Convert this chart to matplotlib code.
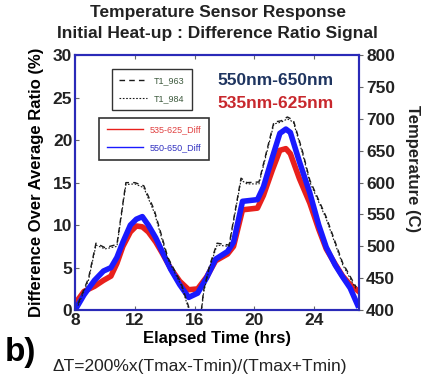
import matplotlib
matplotlib.use("Agg")
import matplotlib.pyplot as plt

plt.rcParams['font.family'] = ['Liberation Sans', 'DejaVu Sans']

# difference ratio signals (%), left axis
blue_t = [8.1, 8.6, 9.3, 9.9, 10.4, 10.8, 11.2, 11.7, 12.1, 12.5, 12.9, 13.4, 13.8, 14.4, 15.0, 15.6,
          16.2, 16.8, 17.4, 18.2, 18.6, 19.2, 20.2, 20.6, 21.2, 21.7, 22.1, 22.4, 23.0, 23.7, 24.3,
          24.8, 25.4, 25.9, 26.4, 26.9]
blue_v = [0.3, 1.8, 3.5, 4.6, 5.0, 6.2, 8.0, 10.0, 10.7, 11.0, 10.0, 8.5, 7.0, 4.8, 3.0, 1.5,
          2.0, 3.8, 6.0, 6.9, 8.0, 12.8, 13.0, 14.5, 18.0, 20.8, 21.3, 20.9, 17.5, 13.8, 10.0,
          7.4, 5.3, 3.9, 2.6, 0.6]
red_t = blue_t
red_v = [1.0, 2.2, 2.8, 3.5, 4.0, 5.5, 7.5, 9.2, 9.9, 9.8, 9.2, 8.0, 6.8, 4.9, 3.4, 2.4,
         2.5, 3.9, 5.8, 6.6, 7.5, 11.8, 12.0, 13.5, 16.5, 18.8, 19.0, 18.4, 15.5, 12.6, 9.5,
         7.2, 5.4, 4.0, 3.0, 2.3]

# thermocouple temperatures (C), right axis
tc_t = [8.2, 8.9, 9.4, 10.0, 10.8, 11.4, 12.0, 12.6, 13.3, 14.2, 15.1, 15.6, 15.9, 16.4, 16.6,
        17.0, 17.5, 18.3, 19.1, 19.5, 20.3, 21.3, 21.8, 22.2, 22.6, 23.2, 23.7, 24.8, 25.9, 26.8]
t1_963 = [410, 450, 505, 498, 503, 600, 600, 595, 557, 483, 442, 405, 390, 390, 431,
          470, 505, 502, 607, 600, 601, 695, 697, 703, 698, 650, 604, 546, 474, 436]
t1_984 = [407, 447, 502, 496, 500, 597, 598, 592, 553, 480, 439, 402, 388, 388, 428,
          467, 502, 500, 604, 598, 598, 692, 695, 700, 695, 647, 601, 543, 471, 433]

fig = plt.figure(figsize=(4.24, 3.75), dpi=100)
ax = fig.add_axes([0.177, 0.173, 0.670, 0.680])
ax2 = ax.twinx()

l_red, = ax.plot(red_t, red_v, color='#e8201c', lw=4, label='535-625_Diff')
l_blue, = ax.plot(blue_t, blue_v, color='#1a1aff', lw=4, label='550-650_Diff')
l963, = ax2.plot(tc_t, t1_963, color='#1a1a1a', lw=1.0, ls=(0, (4, 3)), label='T1_963')
l984, = ax2.plot(tc_t, t1_984, color='#1a1a1a', lw=0.8, ls=(0, (1.5, 1.5)), label='T1_984')
ax2.set_zorder(ax.get_zorder() + 1)
ax.patch.set_visible(False)

ax.set_xlim(8, 27)
ax.set_ylim(0, 30)
ax2.set_ylim(400, 800)
ax.set_xticks([8, 12, 16, 20, 24])
ax.set_yticks([0, 5, 10, 15, 20, 25, 30])
ax2.set_yticks(range(400, 801, 50))

for a in (ax, ax2):
    for s in a.spines.values():
        s.set_color('#2a2ab8')
        s.set_linewidth(1.5)
ax.tick_params(direction='in', length=3, color='#666666', labelsize=12.5, pad=2, top=True)
ax2.tick_params(direction='out', length=3, color='#666666', labelsize=12.5, pad=2)
for lab in ax.get_xticklabels() + ax.get_yticklabels() + ax2.get_yticklabels():
    lab.set_fontweight('bold')
    lab.set_color('#222222')

ax.set_ylabel('Difference Over Average Ratio (%)', fontsize=12, fontweight='bold', labelpad=6)
ax.set_xlabel('Elapsed Time (hrs)', fontsize=12, fontweight='bold', labelpad=2)
fig.text(0.972, 0.55, 'Temperature (C)', rotation=270, fontsize=12, fontweight='bold',
         ha='center', va='center', color='#222222')

fig.text(0.513, 0.966, 'Temperature Sensor Response', fontsize=12.5, fontweight='bold',
         ha='center', va='center', color='#222222')
fig.text(0.513, 0.91, 'Initial Heat-up : Difference Ratio Signal', fontsize=12.5,
         fontweight='bold', ha='center', va='center', color='#222222')

ax.text(0.705, 0.9, '550nm-650nm', transform=ax.transAxes, fontsize=12.5, fontweight='bold',
        color='#1f3560', ha='center', va='center')
ax.text(0.705, 0.81, '535nm-625nm', transform=ax.transAxes, fontsize=12.5, fontweight='bold',
        color='#c8282d', ha='center', va='center')

leg1 = ax2.legend(handles=[l963, l984], loc='upper left', bbox_to_anchor=(0.115, 0.965),
                  fontsize=6.5, frameon=True, fancybox=False, edgecolor='black',
                  handlelength=3, borderpad=0.8, labelspacing=1.0)
leg1.get_frame().set_linewidth(1.0)
for t in leg1.get_texts():
    t.set_color('#3d5a3d')

leg2 = ax2.legend(handles=[l_red, l_blue], loc='upper left', bbox_to_anchor=(0.07, 0.77),
                  fontsize=6.5, frameon=True, fancybox=False, edgecolor='black',
                  handlelength=4, borderpad=0.8, labelspacing=1.0)
leg2.get_frame().set_linewidth(1.2)
for line in leg2.get_lines():
    line.set_linewidth(1.0)
leg2.get_texts()[0].set_color('#e04040')
leg2.get_texts()[1].set_color('#3030c0')
ax2.add_artist(leg1)

fig.text(0.012, 0.06, 'b)', fontsize=24, fontweight='bold', ha='left', va='center')
fig.text(0.472, 0.022, 'ΔT=200%x(Tmax-Tmin)/(Tmax+Tmin)', fontsize=12.5,
         ha='center', va='center', color='#222222')

fig.savefig('out.png', dpi=100)
